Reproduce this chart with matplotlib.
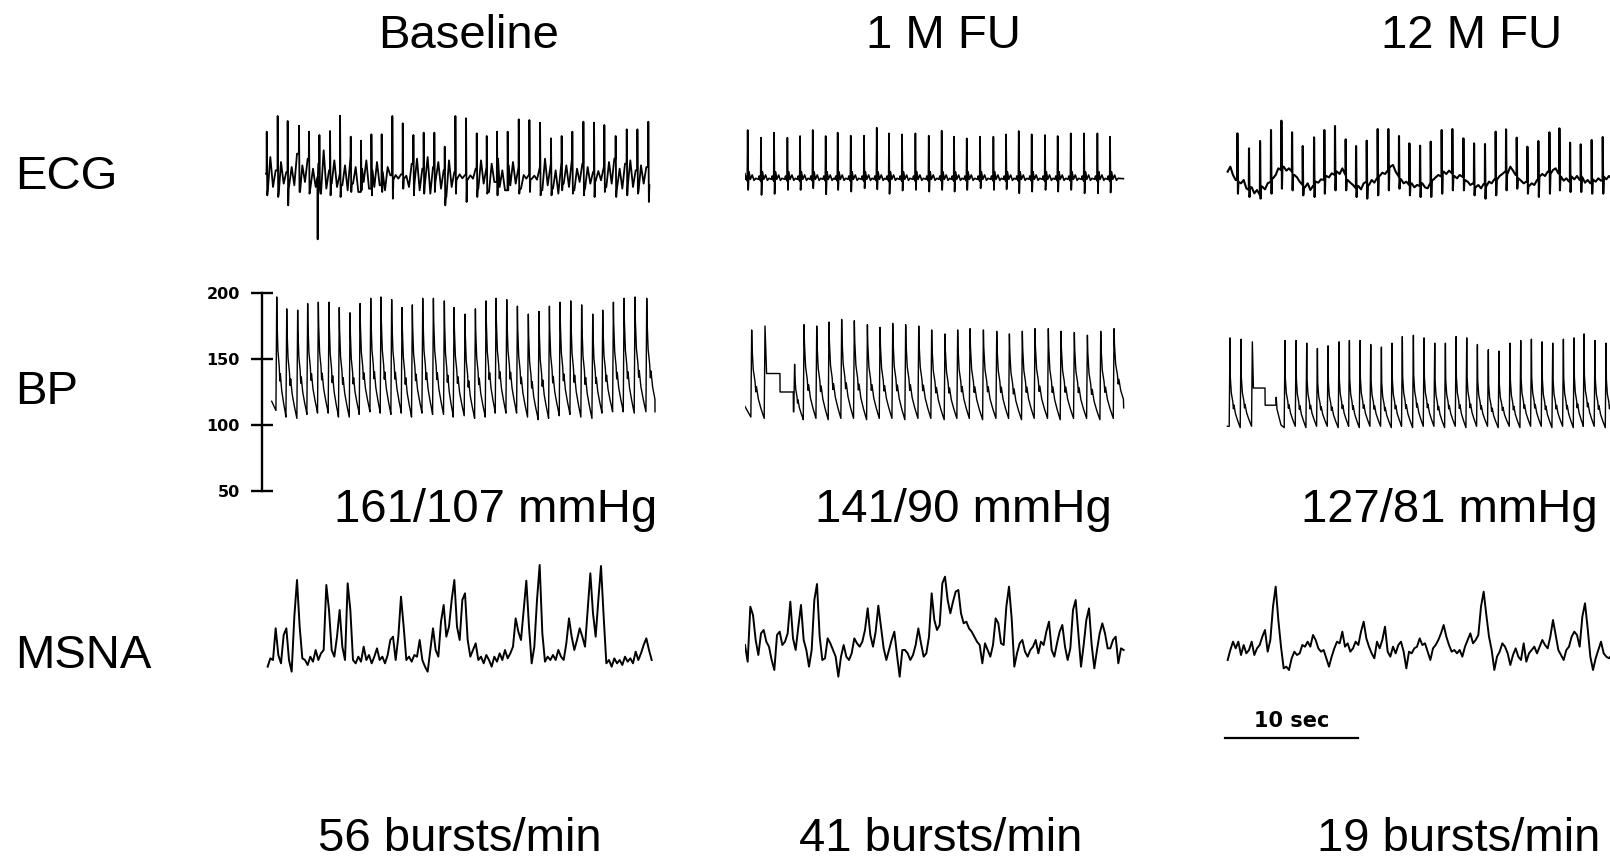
import numpy as np
import matplotlib.pyplot as plt

plt.rcParams['font.family'] = ['Liberation Sans', 'DejaVu Sans']

# Labels
columns = ['Baseline', '1 M FU', '12 M FU']
row_labels = ['ECG', 'BP', 'MSNA']
bp_text = ['161/107 mmHg', '141/90 mmHg', '127/81 mmHg']
msna_text = ['56 bursts/min', '41 bursts/min', '19 bursts/min']
bp_ticks = [50, 100, 150, 200]

# ---------------- ECG (time in s, amplitude in a.u.) ----------------
# Baseline: R-wave times, R and S amplitudes, sampled background every 0.2 s
ecg1_r_t = [0.13, 0.95, 1.7, 2.55, 3.3, 4.08, 4.88, 5.63, 6.43, 7.2, 7.98, 8.75, 9.55,
            10.33, 11.13, 11.9, 12.7, 13.48, 14.28, 15.08, 15.88, 16.63, 17.4, 18.2,
            19.03, 19.83, 20.63, 21.45, 22.25, 23.05, 23.88, 24.68, 25.45, 26.3, 27.13,
            27.93, 28.75]
ecg1_r_v = [136, 183, 168, 154, 136, 126, 138, 184, 121, 109, 128, 128, 183, 161, 126,
            133, 133, 91, 183, 176, 131, 123, 136, 136, 173, 171, 163, 116, 123, 136,
            166, 163, 156, 123, 143, 143, 166]
ecg1_s_v = [-55, -60, -85, -45, -50, -40, -55, -60, -45, -40, -55, -45, -65, -35, -55,
            -50, -45, -85, -50, -75, -60, -50, -55, -40, -50, -45, -55, -55, -40, -50,
            -55, -60, -45, -60, -55, -50, -75]
ecg1_spike_t = 3.95
ecg1_spike_v = -187
ecg1_base = [10, -40, 60, -30, 20, -50, 45, -20, 15, -35, 30,
             -25, 70, -45, 35, -15, 55, -40, 25, -30, 40,
             -50, 80, -35, 20, -20, 50, -30, 10, -25, 35,
             -40, 60, -20, 30, -45, 25, -15, 50, -35, 20, -30, 45, -25, 15, -40, 30,
             5, -8, 6, -5, 8, -6, 4,
             -30, 40, -20, 55, -40, 25, -25, 60, -50, 30, -15, 45, -35, 20, -60, 50, -30, 15,
             -6, 8, -4, 6, -8, 5, -5,
             25, -35, 50, -20, 30, -45, 40, -15, 55, -30, 20, -40, 35, -25, 45, -20, 30, -35,
             6, -5, 8, -6, 4, -8,
             30, -40, 55, -25, 40, -35, 20, -50, 45, -20, 35, -30, 60, -40, 25, -15, 40, -35, 30, -20,
             15, -12, 18, -10,
             35, -30, 45, -20, 55, -40, 25, -35, 40, -25, 50, -30, 20, -45, 35, -20, 30, -25]

# 1 M FU: clean beats
ecg2_r_t = [0.2, 1.2, 2.18, 3.18, 4.13, 5.08, 6.05, 6.95, 7.93, 8.93, 9.88, 10.8, 11.78,
            12.78, 13.78, 14.75, 15.68, 16.63, 17.63, 18.63, 19.58, 20.53, 21.5, 22.5,
            23.45, 24.43, 25.43, 26.43, 27.38]
ecg2_r_v = [141, 118, 133, 118, 123, 141, 123, 133, 124, 124, 148, 131, 128, 131, 124,
            139, 121, 116, 121, 121, 128, 138, 128, 126, 123, 131, 131, 131, 121]
ecg2_s_v = [-39, -54, -51, -39, -39, -34, -52, -39, -44, -34, -37, -51, -41, -39, -44,
            -39, -44, -39, -34, -39, -37, -49, -44, -39, -44, -39, -49, -49, -47]
# P / T wave levels around each R (offset s, level)
ecg2_pre_dt = [-0.2, -0.14, -0.08, -0.03]
ecg2_pre_v = [-7, 3, -6, -12]
ecg2_post_dt = [0.1, 0.2, 0.34, 0.48, 0.6]
ecg2_post_v = [16, -7, 6, -10, -4]

# 12 M FU: beats on a wandering baseline
ecg3_r_t = [0.93, 1.8, 2.63, 3.45, 4.23, 5.03, 5.83, 6.68, 7.45, 8.25, 9.05, 9.83, 10.63,
            11.45, 12.25, 13.05, 13.83, 14.63, 15.43, 16.25, 17.05, 17.88, 18.68, 19.5,
            20.3, 21.08, 21.88, 22.68, 23.5, 24.33, 25.08, 25.88, 26.68, 27.5, 28.33, 29.13]
ecg3_r_v = [131, 86, 108, 141, 169, 134, 93, 119, 141, 153, 113, 93, 109, 144, 144, 123,
            101, 94, 106, 141, 144, 116, 101, 99, 136, 143, 118, 91, 108, 134, 146, 103,
            98, 111, 120, 125]
ecg3_s_v = [-50, -60, -65, -50, -35, -40, -55, -60, -50, -40, -40, -60, -65, -55, -40,
            -35, -55, -60, -60, -50, -40, -40, -55, -65, -55, -40, -35, -50, -60, -50,
            -40, -45, -45, -50, -50, -45]
ecg3_base = [16, 31, 6, -9, -14, -19, -9, -34, -39, -31, -49, -39, -54, -29, -37, -19, -14,
             -4, 6, 26, 21, 31, 19, 26, 16, 6, -1, -14, -24, -31, -19, -39, -27, -14, -17,
             -7, -9, 3, -1, 11, 6, 16, 9, 26, 6, -9, -17, -24, -34, -27, -37, -19, -14,
             -24, -9, -17, -1, 3, 13, 9, 21, 31, 36, 16, 1, -7, -19, -14, -24, -19, -31,
             -24, -27, -19, -31, -34, -17, -9, -1, 6, 1, 16, 9, 19, 11, 3, -4, 6, 1, -9,
             -14, -24, -19, -31, -24, -34, -21, -29, -14, -19, -7, -9, 3, 9, 16, 11, 31,
             19, 6, -4, -11, -19, -14, -27, -19, -24, -9, 1, 9, 3, 16, 9, 21, 26, 11, 1,
             -11, -4, -14, 1, -7, 3, -9, -1, -17, -9, -19, -7, -14, -4, -11, 1, -7, 3, -4, 1]

# ---------------- BP (mmHg) ----------------
bp1_t = [0.88, 1.63, 2.45, 3.2, 4.0, 4.8, 5.57, 6.38, 7.13, 7.93, 8.7, 9.5, 10.28, 11.05,
         11.83, 12.63, 13.45, 14.18, 15.0, 15.78, 16.58, 17.33, 18.13, 18.93, 19.75,
         20.55, 21.33, 22.13, 22.93, 23.75, 24.58, 25.33, 26.13, 26.93, 27.75, 28.63]
bp1_sys = [197, 188, 187, 192, 193, 193, 189, 185, 192, 196, 197, 195, 189, 191, 196, 196,
           194, 189, 184, 188, 194, 196, 195, 190, 184, 186, 190, 193, 194, 191, 184, 187,
           193, 196, 197, 196]
bp1_dia = [111, 106, 105, 108, 109, 109, 106, 106, 108, 110, 109, 108, 109, 106, 109, 108,
           108, 106, 107, 105, 106, 109, 109, 109, 106, 104, 105, 107, 108, 106, 105, 109,
           110, 110, 109, 110]

bp2_t = [0.5, 1.5, 3.72, 4.43, 5.38, 6.3, 7.25, 8.2, 9.18, 10.13, 11.08, 12.05, 13.03,
         14.0, 15.0, 15.95, 16.88, 17.88, 18.88, 19.83, 20.8, 21.75, 22.75, 23.7, 24.7,
         25.68, 26.68, 27.68]
bp2_sys = [172, 175, 146, 176, 175, 178, 180, 179, 176, 174, 177, 176, 175, 172, 169, 172,
           173, 172, 171, 169, 171, 173, 173, 171, 170, 168, 171, 173]
bp2_dia = [106, 105, 110, 104, 105, 104, 105, 105, 104, 105, 105, 104, 105, 105, 104, 105,
           105, 104, 105, 105, 104, 105, 105, 104, 105, 105, 104, 105]
# calibration step after the 2nd beat
bp2_cal_t = [1.62, 2.62, 2.63, 3.62, 3.63]
bp2_cal_v = [139, 139, 125, 125, 110]

bp3_t = [0.375, 1.2, 2.05, 4.5, 5.33, 6.13, 6.93, 7.73, 8.55, 9.33, 10.13, 10.93, 11.73,
         12.53, 13.3, 14.13, 14.93, 15.73, 16.53, 17.33, 18.13, 18.93, 19.75, 20.55, 21.38,
         22.18, 22.98, 23.78, 24.58, 25.38, 26.18, 26.93, 27.75, 28.58, 29.4]
bp3_sys = [166, 165, 163, 164, 164, 162, 158, 160, 163, 164, 164, 161, 159, 162, 167, 168,
           166, 162, 162, 167, 166, 161, 157, 156, 162, 164, 165, 163, 162, 165, 166, 169,
           164, 162, 165]
bp3_dia = [99, 98, 99, 98, 99, 98, 99, 99, 98, 99, 98, 99, 99, 98, 99, 98, 99, 99, 98, 99,
           98, 99, 99, 98, 99, 98, 99, 99, 98, 99, 98, 99, 99, 98, 99]
# calibration step after the 3rd beat
bp3_cal_t = [2.09, 2.13, 3.0, 3.01, 3.82, 3.84, 3.9, 4.2]
bp3_cal_v = [145, 128, 128, 115, 115, 121, 112, 100]

# pressure pulse shape: phase of beat interval after the peak, fraction of pulse pressure
bp_phase = [0.03, 0.12, 0.25, 0.31, 0.36, 0.5, 0.7, 0.85]
bp_level = [0.8, 0.55, 0.42, 0.3, 0.36, 0.22, 0.11, 0.04]

# ---------------- MSNA (a.u.), sampled every 0.2 s ----------------
msna1 = [-20, 5, 0, 95, 15, -10, 75, 95, 0, -35, 130, 240, 100, 5, 0, -15, 10, -5, 30, 0,
         20, 30, 225, 150, 30, 10, 70, 150, 40, 0, 230, 150, 0, -10, 10, -5, 40, 0, 15,
         -10, 10, 35, 0, 10, -10, 15, 60, 70, 0, 70, 190, 100, 0, 10, -5, 15, 10, 60, 0,
         -20, -35, 30, 95, 30, 10, 115, 165, 70, 100, 180, 240, 100, 60, 180, 200, 60, 10,
         30, 50, 0, 10, -10, 15, 0, -20, 10, -5, 20, 0, 30, 5, 20, 40, 125, 85, 60, 150,
         238, 100, -10, 40, 180, 285, 80, -5, 10, 0, 15, 0, 30, 10, 0, 50, 125, 70, 30, 60,
         95, 70, 40, 150, 260, 140, 70, 180, 282, 130, -10, 0, -20, 5, -10, 0, -15, 10, -5,
         5, -10, 25, 0, 20, 45, 65, 30, 0]
msna2 = [45, -5, 160, 135, 60, 15, 80, 90, 55, 40, 0, -30, 75, 85, 45, 55, 80, 175, 65, 30,
         100, 165, 60, 30, -20, 30, 180, 228, 70, 0, 5, 65, 50, 30, 10, -50, 10, 45, 10, 0,
         20, 65, 50, 40, 55, 90, 155, 75, 40, 85, 163, 100, 35, 0, 30, 60, 85, 15, -50, 30,
         30, 20, 0, 15, 45, 95, 50, 10, 20, 70, 200, 120, 90, 105, 230, 250, 180, 140, 175,
         205, 210, 140, 110, 115, 95, 85, 70, 55, 45, -10, 50, 30, 10, 45, 125, 110, 50, 45,
         160, 220, 125, -20, 20, 50, 60, 25, 10, 30, 40, 60, 20, 55, 45, 85, 115, 30, 10, 50,
         85, 105, 40, 0, 35, 150, 180, 80, -20, 45, 120, 155, 45, -25, 30, 80, 110, 80, 35,
         35, 60, 70, -10, 35, 30]
msna3 = [0, 30, 55, 35, 55, 15, 45, 20, 30, 55, 15, 35, 45, 70, 90, 25, 60, 160, 220, 120,
         40, -25, -20, -30, 5, 25, 15, 20, 45, 40, 55, 40, 75, 60, 35, 25, 30, 5, -20, 10,
         35, 55, 50, 85, 40, 50, 25, 35, 55, 45, 85, 115, 65, 40, 20, 5, 55, 35, 60, 100, 25,
         10, 40, 20, 45, 55, 25, -25, 25, 20, 35, 40, 65, 45, 50, 25, 0, 35, 45, 60, 80, 105,
         70, 45, 25, 30, 20, 30, 10, 40, 60, 80, 50, 60, 75, 160, 205, 135, 70, 30, -30, 10,
         25, 50, 40, 20, -15, 15, 35, 10, 0, 50, -5, 20, 30, 40, 20, 40, 60, 45, 35, 70, 120,
         75, 30, 15, 0, 30, 40, 70, 85, 75, 40, 130, 170, 95, 10, -30, 5, 30, 55, 20, 10, 5,
         15, 0]


def spike_trace(t0, base, r_t, r_v, s_v, dt=0.2):
    # background samples with R and S spikes sorted in
    bt = t0 + dt * np.arange(len(base))
    base = np.array(base, float)
    keep = np.ones(len(bt), bool)
    for t in r_t:
        keep &= ~((bt > t - 0.06) & (bt < t + 0.12))
    tt = list(bt[keep])
    vv = list(base[keep])
    for i, t in enumerate(r_t):
        j = min(max(int((t - t0) // dt), 0), len(base) - 1)
        k = min(j + 1, len(base) - 1)
        tt += [t - 0.015, t, t + 0.04, t + 0.08]
        vv += [base[j], r_v[i], s_v[i], base[k]]
    order = np.argsort(tt)
    return np.array(tt)[order], np.array(vv)[order]


def ecg_clean(start, end, r_t, r_v, s_v):
    tt = [start[0]]
    vv = [start[1]]
    for i, t in enumerate(r_t):
        tt += [t + d for d in ecg2_pre_dt] + [t, t + 0.04] + [t + d for d in ecg2_post_dt]
        vv += ecg2_pre_v + [r_v[i], s_v[i]] + ecg2_post_v
    tt.append(end[0])
    vv.append(end[1])
    tt = np.array(tt)
    vv = np.array(vv)
    m = (tt >= start[0]) & (tt <= end[0])
    return tt[m], vv[m]


def bp_trace(start, end, beat_t, sys, dia, cal_after=None, cal_t=None, cal_v=None, scale=1.0):
    tt = [start[0]]
    vv = [start[1]]
    n = len(beat_t)
    for i in range(n):
        tt += [beat_t[i] - 0.06, beat_t[i]]
        vv += [dia[i], sys[i]]
        if i == cal_after:
            tt += cal_t
            vv += cal_v
            continue
        if i + 1 < n:
            period = beat_t[i + 1] - beat_t[i]
            low = dia[i + 1]
        else:
            period = beat_t[i] - beat_t[i - 1]
            low = end[1]
        for p, lev in zip(bp_phase, bp_level):
            tt.append(beat_t[i] + p * period)
            vv.append(low + lev * scale * (sys[i] - low))
    tt = np.array(tt)
    vv = np.array(vv)
    m = tt < end[0]
    return np.append(tt[m], end[0]), np.append(vv[m], end[1])


# baseline ECG, with the one large downward artefact
t1, v1 = spike_trace(0.0, ecg1_base, ecg1_r_t, ecg1_r_v, ecg1_s_v)
t1 = np.append(t1, [ecg1_spike_t - 0.01, ecg1_spike_t, ecg1_spike_t + 0.01])
v1 = np.append(v1, [0, ecg1_spike_v, 0])
order = np.argsort(t1)

ecg_traces = [
    (t1[order], v1[order]),
    ecg_clean((0.0, 10), (28.38, -5), ecg2_r_t, ecg2_r_v, ecg2_s_v),
    spike_trace(0.2, ecg3_base, ecg3_r_t, ecg3_r_v, ecg3_s_v),
]
ecg_lw = [1.3, 1.2, 1.5]

bp_traces = [
    bp_trace((0.5, 118), (29.25, 110), bp1_t, bp1_sys, bp1_dia),
    bp_trace((0.0, 114), (28.4, 113), bp2_t, bp2_sys, bp2_dia, 1, bp2_cal_t, bp2_cal_v),
    bp_trace((0.18, 99), (30.5, 99), bp3_t, bp3_sys, bp3_dia, 2, bp3_cal_t, bp3_cal_v, 0.7),
]

msna_traces = [
    (0.2 + 0.2 * np.arange(len(msna1)), np.array(msna1)),
    (0.0 + 0.2 * np.arange(len(msna2)), np.array(msna2)),
    (0.2 + 0.2 * np.arange(len(msna3)), np.array(msna3)),
]

# ---------------- layout (pixel boxes on a 1610 x 860 canvas) ----------------
W, H = 1610, 860
fig = plt.figure(figsize=(W / 100, H / 100), dpi=100)


def px_axes(x, y_top, w, h):
    return fig.add_axes([x / W, 1 - (y_top + h) / H, w / W, h / H])


col_x = [265, 745, 1225]

for c in range(3):
    # ECG row
    ax = px_axes(col_x[c], 100, 400, 150)
    t, v = ecg_traces[c]
    ax.plot(t, v, color='black', lw=ecg_lw[c])
    ax.set_xlim(0, 30)
    ax.set_ylim(-219, 231)
    ax.axis('off')

    # BP row
    ax = px_axes(col_x[c], 293, 400, 198)
    t, v = bp_traces[c]
    ax.plot(t, v, color='black', lw=1.0)
    ax.set_xlim(0, 30)
    ax.set_ylim(50, 200)
    if c == 0:
        for s in ['top', 'right', 'bottom']:
            ax.spines[s].set_visible(False)
        ax.spines['left'].set_position(('data', -0.225))
        ax.spines['left'].set_bounds(50, 200)
        ax.spines['left'].set_linewidth(1.7)
        ax.set_xticks([])
        ax.set_yticks(bp_ticks)
        ax.tick_params(axis='y', direction='inout', length=16, width=1.7, pad=8)
        for lab in ax.get_yticklabels():
            lab.set_fontfamily('DejaVu Sans')
            lab.set_fontweight('bold')
            lab.set_fontsize(11.5)
        ax.patch.set_visible(False)
    else:
        ax.axis('off')

    # MSNA row
    ax = px_axes(col_x[c], 550, 400, 150)
    t, v = msna_traces[c]
    ax.plot(t, v, color='black', lw=1.4)
    ax.set_xlim(0, 30)
    ax.set_ylim(-120, 330)
    ax.axis('off')
    if c == 2:
        # 10 s scale bar
        ax.plot([0, 10], [-235, -235], color='black', lw=1.6, clip_on=False)
        ax.text(5, -201, '10 sec', ha='center', va='baseline', fontsize=15,
                fontweight='bold', family='DejaVu Sans')

# texts
title_x = [469, 943, 1472]
for c in range(3):
    fig.text(title_x[c] / W, 1 - 48 / H, columns[c], ha='center', va='baseline', fontsize=34)

fig.text(496 / W, 1 - 522 / H, bp_text[0], ha='center', va='baseline', fontsize=34)
fig.text(963 / W, 1 - 522 / H, bp_text[1], ha='center', va='baseline', fontsize=34)
fig.text(1598 / W, 1 - 522 / H, bp_text[2], ha='right', va='baseline', fontsize=34)

fig.text(460 / W, 1 - 851 / H, msna_text[0], ha='center', va='baseline', fontsize=34)
fig.text(941 / W, 1 - 851 / H, msna_text[1], ha='center', va='baseline', fontsize=34)
fig.text(1600 / W, 1 - 851 / H, msna_text[2], ha='right', va='baseline', fontsize=34)

row_y = [189, 404, 668]
for r in range(3):
    fig.text(15 / W, 1 - row_y[r] / H, row_labels[r], ha='left', va='baseline', fontsize=34)

fig.savefig('out.png', dpi=100)
